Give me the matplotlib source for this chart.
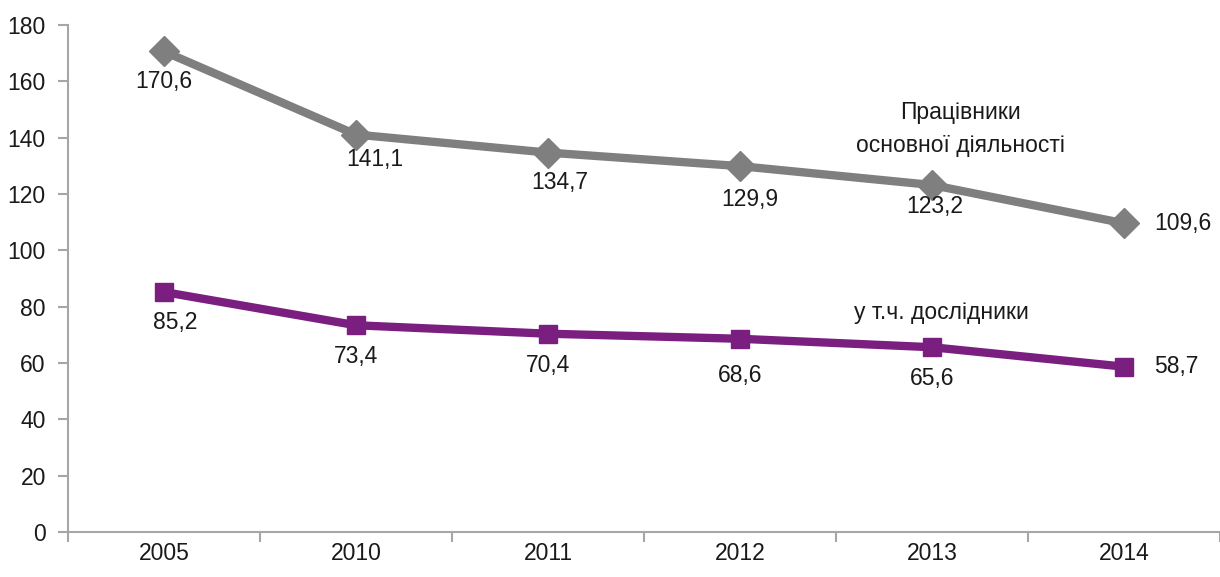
import numpy as np
import matplotlib.pyplot as plt
from matplotlib.ticker import MultipleLocator, FixedLocator

plt.rcParams['font.family'] = ['Liberation Sans', 'DejaVu Sans']

years = ['2005', '2010', '2011', '2012', '2013', '2014']
staff = [170.6, 141.1, 134.7, 129.9, 123.2, 109.6]
researchers = [85.2, 73.4, 70.4, 68.6, 65.6, 58.7]

# label offsets in pixels (dx, dy) relative to markers
staff_off = [(0, -30), (19, -25), (12, -30), (10, -33), (3, -22), (36, 0)]
res_off = [(11, -30), (0, -31), (0, -32), (0, -37), (0, -31), (36, 0)]

gray = '#7f7f7f'
purple = '#7a1e80'
axc = '#a6a6a6'
fs = 16.5

fig = plt.figure(figsize=(12.2, 5.77), dpi=100)
ax = fig.add_axes([68 / 1220, 45 / 577, 1 - 68 / 1220, 507 / 577])

x = np.arange(len(years))
ax.plot(x, staff, color=gray, lw=6, marker='D', ms=15, mfc=gray, mec=gray, zorder=3)
ax.plot(x, researchers, color=purple, lw=6, marker='s', ms=13, mfc=purple, mec=purple, zorder=3)

def lab(vals, offs):
    for i, (v, (dx, dy)) in enumerate(zip(vals, offs)):
        ha = 'left' if dx > 30 else 'center'
        ax.annotate(f'{v:.1f}'.replace('.', ','), (i, v),
                    xytext=(dx * 0.72 - (4 if ha == 'left' else 0), dy * 0.72),
                    textcoords='offset points', ha=ha, va='center',
                    fontsize=fs, color='#1a1a1a')

lab(staff, staff_off)
lab(researchers, res_off)

ax.text(4.15, 143, 'Працівники\nосновної діяльності', ha='center', va='center',
        fontsize=fs, color='#1a1a1a', linespacing=1.55)
ax.text(4.05, 78, 'у т.ч. дослідники', ha='center', va='center',
        fontsize=fs, color='#1a1a1a')

ax.set_xlim(-0.5, 5.5)
ax.set_ylim(0, 180)
ax.yaxis.set_major_locator(MultipleLocator(20))
ax.set_xticks(x)
ax.set_xticklabels(years)
ax.xaxis.set_minor_locator(FixedLocator(np.arange(-0.5, 6, 1)))
ax.tick_params(axis='x', which='major', length=0, pad=7, labelsize=fs, labelcolor='#1a1a1a')
ax.tick_params(axis='x', which='minor', length=7, color=axc, width=1.5)
ax.tick_params(axis='y', length=7, color=axc, width=1.5, pad=9, labelsize=fs, labelcolor='#1a1a1a')

for s in ['top', 'right']:
    ax.spines[s].set_visible(False)
for s in ['left', 'bottom']:
    ax.spines[s].set_color(axc)
    ax.spines[s].set_linewidth(1.5)

fig.savefig('out.png', dpi=100)
